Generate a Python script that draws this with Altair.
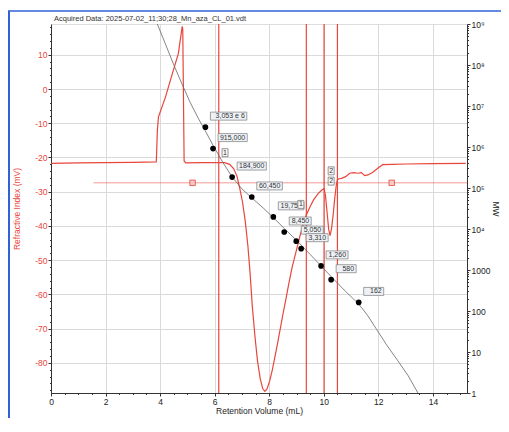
import altair as alt
import pandas as pd

# ---------------- data ----------------
ri_volume = [0.00, 1.00, 2.00, 3.00, 3.86, 3.90, 3.94, 4.19, 4.43, 4.67, 4.81, 4.83, 4.88, 4.94,
             5.50, 6.00, 6.36, 6.55, 6.70, 6.82, 6.92, 7.02, 7.12, 7.22, 7.30, 7.38, 7.48, 7.57,
             7.67, 7.76, 7.84, 7.92, 8.02, 8.12, 8.30, 8.51, 8.60, 8.72, 8.84, 9.00, 9.14, 9.25,
             9.36, 9.50, 9.63, 9.80, 9.93, 10.01, 10.06, 10.12, 10.18, 10.23, 10.28, 10.34, 10.40,
             10.46, 10.50, 10.56, 10.65, 10.80, 10.95, 11.10, 11.25, 11.38, 11.50, 11.62, 11.80,
             12.00, 12.16, 12.50, 13.00, 14.00, 15.20]
ri_signal = [-21.7, -21.6, -21.5, -21.4, -21.3, -12.0, -8.1, -2.5, 4.0, 10.4, 18.3, 17.5, -21.0, -21.6,
             -21.5, -21.5, -21.5, -22.0, -23.3, -25.5, -29.0, -33.0, -38.5, -46.0, -54.0, -63.5, -72.5, -79.4,
             -84.6, -87.5, -88.3, -87.6, -85.2, -81.8, -74.5, -65.5, -61.8, -56.8, -52.0, -47.0, -42.5, -39.4,
             -36.8, -34.3, -32.3, -30.5, -29.5, -29.1, -31.0, -36.0, -41.0, -42.8, -41.0, -37.0, -32.0,
             -28.0, -26.5, -26.2, -26.1, -25.6, -24.6, -24.4, -24.6, -24.4, -25.3, -25.1, -24.3,
             -23.0, -22.1, -22.0, -21.9, -21.8, -21.7]

baseline_volume = [1.56, 15.25]
baseline_signal = [-27.4, -27.4]

baseline_marker_volume = [5.19, 12.49]
baseline_marker_signal = [-27.4, -27.4]

peak_limit_volume = [6.15, 9.36, 10.01, 10.50]

peak_tag_text = ["1", "1", "2", "2"]
peak_tag_volume = [6.38, 9.16, 10.27, 10.27]
peak_tag_signal = [-18.6, -33.7, -23.9, -26.9]

cal_volume = [3.88, 4.19, 4.49, 4.79, 5.10, 5.40, 5.66, 5.94, 6.30, 6.64, 7.00, 7.36, 7.80, 8.15,
              8.57, 8.99, 9.50, 9.90, 10.27, 10.80, 11.28, 11.60, 11.92, 12.30, 12.70, 13.10, 13.45]
cal_mw = [1.07e9, 3.3e8, 1.05e8, 3.6e7, 1.23e7, 5.0e6, 2.45e6, 1.1e6, 4.2e5, 1.86e5, 9.5e4, 5.75e4,
          3.16e4, 1.9e4, 1.0e4, 5.4e3, 2.4e3, 1.26e3, 6.9e2, 3.0e2, 1.48e2, 79, 37, 15, 6.3, 2.6, 1.0]

std_volume = [5.66, 5.94, 6.64, 7.36, 8.15, 8.55, 8.99, 9.17, 9.90, 10.27, 11.28]
std_mw = [3053000, 915000, 184900, 60450, 19750, 8450, 5050, 3310, 1260, 580, 162]
std_label = ["3,053 e 6", "915,000", "184,900", "60,450", "19,750", "8,450", "5,050", "3,310",
             "1,260", "580", "162"]

mw_major_ticks = [1, 10, 100, 1000, 10**4, 10**5, 10**6, 10**7, 10**8, 10**9]
mw_major_labels = ["1", "10", "100", "1000", "10⁴", "10⁵", "10⁶", "10⁷", "10⁸", "10⁹"]

title_text = "Acquired Data: 2025-07-02_11;30;28_Mn_aza_CL_01.vdt"

# ---------------- styling ----------------
RED = "#e8463c"
FONT = "Liberation Sans"
X_DOMAIN = [0, 15.25]
RI_DOMAIN = [-88.8, 19]
MW_DOMAIN = [1, 1e9]
W, H = 416, 369

ri_df = pd.DataFrame({"v": ri_volume, "s": ri_signal})
base_df = pd.DataFrame({"v": baseline_volume, "s": baseline_signal})
bm_df = pd.DataFrame({"v": baseline_marker_volume, "s": baseline_marker_signal})
lim_df = pd.DataFrame({"v": peak_limit_volume})
tag_df = pd.DataFrame({"v": peak_tag_volume, "s": peak_tag_signal, "t": peak_tag_text})
cal_df = pd.DataFrame({"v": cal_volume, "mw": cal_mw})
std_df = pd.DataFrame({"v": std_volume, "mw": std_mw, "label": std_label})
title_df = pd.DataFrame({"t": [title_text]})

x_minor = [i * 0.5 for i in range(0, 31)]
ri_minor = list(range(-88, 19, 2))
mw_minor = []
for k in range(0, 9):
    for m in range(1, 10):
        mw_minor.append(m * 10 ** k)
mw_minor.append(10 ** 9)

mw_label_expr = " : ".join(
    f"datum.value === {v} ? '{lab}'" for v, lab in zip(mw_major_ticks, mw_major_labels)
) + " : ''"
mw_major_test = " || ".join(f"datum.value === {v}" for v in mw_major_ticks)

xs = alt.Scale(domain=X_DOMAIN, nice=False, zero=False)
ris = alt.Scale(domain=RI_DOMAIN, nice=False, zero=False)
mws = alt.Scale(type="log", domain=MW_DOMAIN, nice=False)

# the x scale is shared by every layer: give every layer the same axis definition
x_axis = alt.Axis(
    orient="bottom",
    values=x_minor,
    labelExpr="datum.value % 2 === 0 ? '' + datum.value : ''",
    title="Retention Volume (mL)",
    titleFont=FONT, titleFontSize=8.5, titleFontWeight="normal", titleColor="#222",
    titlePadding=1,
    labelFont=FONT, labelFontSize=8.5, labelColor="#222", labelPadding=1,
    labelFlush=False, labelOverlap=False,
    domainColor="#333", tickColor="#333",
    tickSize={"condition": {"test": "datum.value % 2 === 0", "value": 3}, "value": 1.5},
    grid=True, gridColor="#dadada",
    gridOpacity={"condition": {"test": "datum.value % 2 === 0", "value": 1}, "value": 0},
)
ri_axis = alt.Axis(
    orient="left",
    values=ri_minor,
    labelExpr="datum.value % 10 === 0 ? '' + datum.value : ''",
    title="Refractive Index (mV)",
    titleFont=FONT, titleFontSize=8.5, titleFontWeight="normal", titleColor=RED,
    titlePadding=13,
    labelFont=FONT, labelFontSize=8.5, labelColor=RED, labelPadding=1,
    labelFlush=False, labelOverlap=False,
    domainColor="#333", tickColor="#333",
    tickSize={"condition": {"test": "datum.value % 10 === 0", "value": 3}, "value": 1.5},
    grid=True, gridColor="#dadada",
    gridOpacity={"condition": {"test": "datum.value % 10 === 0", "value": 1}, "value": 0},
)
mw_axis = alt.Axis(
    orient="right",
    values=mw_minor,
    labelExpr=mw_label_expr,
    title="MW",
    titleFont=FONT, titleFontSize=8.5, titleFontWeight="normal", titleColor="#222",
    titlePadding=1,
    labelFont=FONT, labelFontSize=8.5, labelColor="#222", labelPadding=1,
    labelFlush=False, labelOverlap=False,
    domainColor="#333", tickColor="#333",
    tickSize={"condition": {"test": mw_major_test, "value": 3}, "value": 1.5},
    grid=False,
)


def X():
    return alt.X("v:Q", scale=xs, axis=x_axis)


ri_line = alt.Chart(ri_df).mark_line(color=RED, strokeWidth=1.2).encode(
    x=X(), y=alt.Y("s:Q", scale=ris, axis=ri_axis), order="v:Q",
)
base_line = alt.Chart(base_df).mark_line(color=RED, strokeWidth=1, opacity=0.55).encode(
    x=X(), y=alt.Y("s:Q", scale=ris, axis=None),
)
base_marks = alt.Chart(bm_df).mark_square(
    size=30, fill="#f6c9c6", stroke=RED, strokeWidth=0.8, opacity=1
).encode(x=X(), y=alt.Y("s:Q", scale=ris, axis=None))
limits = alt.Chart(lim_df).mark_rule(color=RED, strokeWidth=1.2).encode(x=X())
cal_line = alt.Chart(cal_df).mark_line(color="#666", strokeWidth=0.8, clip=True).encode(
    x=X(), y=alt.Y("mw:Q", scale=mws, axis=mw_axis), order="v:Q",
)
std_dots = alt.Chart(std_df).mark_circle(size=32, color="black", opacity=1).encode(
    x=X(), y=alt.Y("mw:Q", scale=mws, axis=None),
)
box_w = "max(20, length(datum.label) * 3.6 + 4)"
std_boxes = alt.Chart(std_df).mark_rect(
    fill="#eef2f7", stroke="#7a7a7a", strokeWidth=0.7,
    xOffset=5, x2Offset=alt.ExprRef("5 + " + box_w),
    yOffset=-15, y2Offset=-7,
).encode(
    x=X(), x2="v:Q",
    y=alt.Y("mw:Q", scale=mws, axis=None), y2="mw:Q",
)
std_text = alt.Chart(std_df).mark_text(
    align="right", baseline="middle", font=FONT, fontSize=7, color="#333",
    dx=alt.ExprRef("3 + " + box_w), dy=-11,
).encode(x=X(), y=alt.Y("mw:Q", scale=mws, axis=None), text="label:N")
tag_boxes = alt.Chart(tag_df).mark_rect(
    fill="#f7f7f7", stroke="#6a6a6a", strokeWidth=0.7,
    xOffset=-3, x2Offset=3, yOffset=-4, y2Offset=4,
).encode(
    x=X(), x2="v:Q",
    y=alt.Y("s:Q", scale=ris, axis=None), y2="s:Q",
)
tag_text = alt.Chart(tag_df).mark_text(
    align="center", baseline="middle", font=FONT, fontSize=7, color="#333",
).encode(x=X(), y=alt.Y("s:Q", scale=ris, axis=None), text="t:N")

# decorative frame and header text (outside the plot area)
frame_left = alt.Chart(title_df).mark_rule(color="#2f62d6", strokeWidth=2).encode(
    x=alt.value(-42), y=alt.value(-13), y2=alt.value(H + 30)
)
frame_top = alt.Chart(title_df).mark_rule(color="#2f62d6", strokeWidth=1.5).encode(
    x=alt.value(-43), x2=alt.value(W + 40), y=alt.value(-13)
)
header = alt.Chart(title_df).mark_text(
    align="left", baseline="middle", font=FONT, fontSize=7.5, color="#333"
).encode(x=alt.value(3), y=alt.value(-5.5), text="t:N")

chart = alt.layer(
    ri_line, base_line, limits, base_marks, cal_line, std_dots, std_boxes, std_text,
    tag_boxes, tag_text, frame_left, frame_top, header,
).resolve_scale(y="independent").properties(
    width=W, height=H,
    autosize=alt.AutoSizeParams(type="none"),
    padding={"left": 43, "top": 16, "right": 34, "bottom": 25},
).configure_view(stroke=None).configure(background="white")

chart.save("out.html", embed_options={"renderer": "svg", "actions": False})
